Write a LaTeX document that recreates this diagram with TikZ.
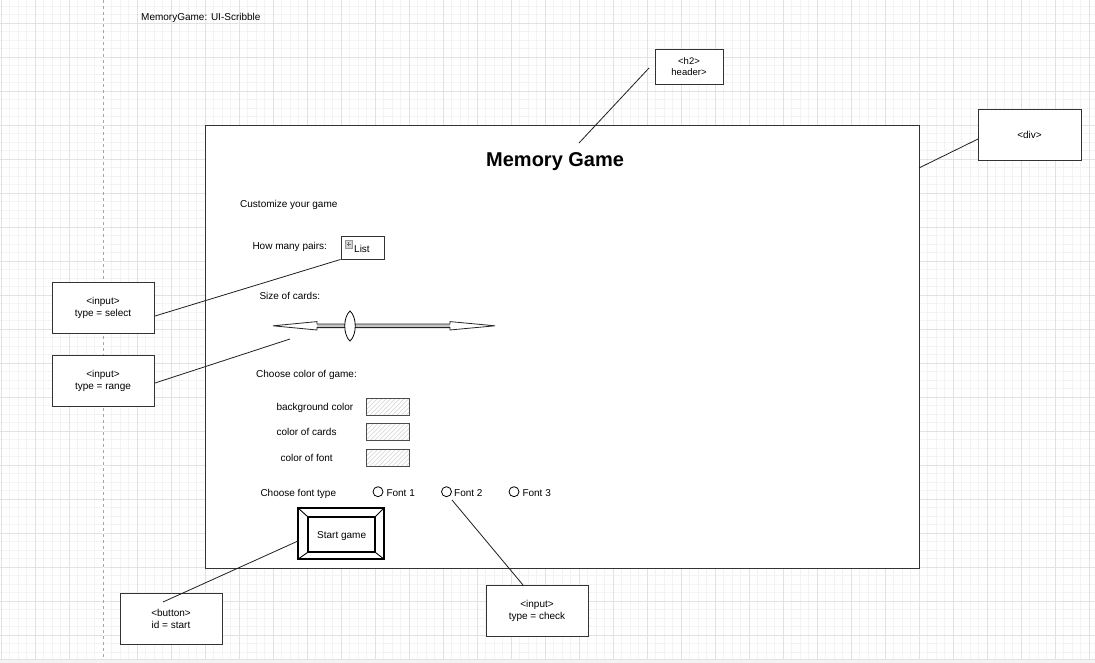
\documentclass[tikz,border=0pt]{standalone}
\usepackage{fontspec}
\setmainfont{Liberation Sans}
\definecolor{gminor}{HTML}{F3F3F3}
\definecolor{gmajor}{HTML}{E2E2E2}
\definecolor{ink}{HTML}{333333}
\begin{document}
\begin{tikzpicture}[x=1pt,y=-1pt,
  txt/.style={font=\fontsize{10}{12}\selectfont, inner sep=0pt, anchor=base west, text=black},
  annot/.style={draw=ink, line width=0.9pt, fill=white, minimum width=102pt, minimum height=51pt, inner sep=0pt, align=center, font=\fontsize{10}{12}\selectfont},
  conn/.style={draw=black!88, line width=0.8pt},
  colbox/.style={draw=black!70, line width=0.8pt},
  radio/.style={draw=black, line width=0.8pt, fill=white, circle, minimum size=10pt, inner sep=0pt},
  ]
\useasboundingbox (0,0) rectangle (1095,663);
\fill[white] (0,0) rectangle (1095,663);
% grid
\foreach \i in {0,...,128} \draw[gminor, line width=0.7pt] ({1+8.5*\i},0) -- ({1+8.5*\i},659);
\foreach \i in {0,...,76} \draw[gminor, line width=0.7pt] (0,{6+8.5*\i}) -- (1095,{6+8.5*\i});
\foreach \i in {0,...,32} \draw[gmajor, line width=0.8pt] ({1+34*\i},0) -- ({1+34*\i},659);
\foreach \i in {0,...,18} \draw[gmajor, line width=0.8pt] (0,{23+34*\i}) -- (1095,{23+34*\i});
\draw[white, line width=1pt] (103,0) -- (103,659);
\draw[gray!70, line width=0.8pt, dash pattern=on 3pt off 3pt] (103,0) -- (103,659);
\fill[gminor] (0,659) rectangle (1095,663);
\draw[gmajor, line width=0.8pt] (0,659) -- (1095,659);

% title
\node[txt] (title) at (141,20.5) {MemoryGame: UI-Scribble};

% main div
\node[draw=ink, line width=1pt, fill=white, minimum width=714pt, minimum height=442pt, inner sep=0pt] (main) at (562,347) {};

\node[inner sep=0pt, anchor=base west, font=\fontsize{20}{24}\selectfont\bfseries] (h2) at (486,167) {Memory Game};

\node[txt] (cust) at (240,207.3) {Customize your game};
\node[txt] (pairs) at (252.3,249) {How many pairs:};

% list box
\node[draw=ink, line width=0.9pt, fill=white, minimum width=43pt, minimum height=23pt, inner sep=0pt] (list) at (362.5,247.5) {};
\fill[gray!35] (345,240.5) rectangle (352.5,248);
\draw[gray!80, line width=0.6pt] (345,240.5) rectangle (352.5,248);
\draw[gray!90!black, line width=0.7pt] (346.8,244.25) -- (350.7,244.25) (348.75,242.3) -- (348.75,246.2);
\node[txt] (listt) at (354,252.5) {List};

\node[txt] (size) at (259.3,299.3) {Size of cards:};

% slider
\fill[white] (273,325.8) -- (317,321.6) -- (317,330) -- cycle;
\fill[white] (495,325.8) -- (450,321.6) -- (450,330) -- cycle;
\fill[gray!45] (317,324) rectangle (450,327.6);
\draw[black!85, line width=0.8pt, line join=miter] (273,325.8) -- (317,321.6) -- (317,324) -- (450,324) -- (450,321.6) -- (495,325.8) -- (450,330) -- (450,327.6) -- (317,327.6) -- (317,330) -- cycle;
\draw[black, line width=0.8pt, fill=white] (350,311) .. controls (357,317) and (357,335) .. (350,341) .. controls (343,335) and (343,317) .. (350,311) -- cycle;
\coordinate (slider) at (290,339);

\node[txt] (choose) at (256,377.5) {Choose color of game:};
\node[txt] (bg) at (276.3,410.7) {background color};
\node[txt] (cc) at (276.3,435.7) {color of cards};
\node[txt] (cf) at (280.3,461.7) {color of font};

% colour boxes
\foreach \ya/\yb in {398/415, 423.5/440.5, 449/466}{
  \begin{scope}
    \clip (366,\ya) rectangle (409,\yb);
    \foreach \k in {0,...,16} \draw[gray!35, line width=0.6pt] ({352+4.5*\k},\yb) -- ++(22,-22);
  \end{scope}
  \draw[colbox] (366,\ya) rectangle (409,\yb);
}

\node[txt] (fonttype) at (260.3,496) {Choose font type};
\node[radio] (r1) at (378,491.7) {};
\node[radio] (r2) at (446.5,491.7) {};
\node[radio] (r3) at (514,491.7) {};
\node[txt] (f1) at (386.3,496) {Font 1};
\node[txt] (f2) at (454,496) {Font 2};
\node[txt] (f3) at (522.3,496) {Font 3};

% start button
\node[draw=black, line width=1.1pt, fill=white, minimum width=86pt, minimum height=51pt, inner sep=0pt] (btn) at (341,533.5) {};
\node[draw=black, line width=1.1pt, minimum width=67pt, minimum height=35pt, inner sep=0pt] (btnin) at (341.5,534.5) {};
\node[txt] (btntxt) at (317,538) {Start game};
\draw[black, line width=0.9pt] (btn.north west) -- (btnin.north west) (btn.north east) -- (btnin.north east) (btn.south west) -- (btnin.south west) (btn.south east) -- (btnin.south east);

% annotation boxes
\node[annot, minimum width=68pt, minimum height=35pt, font=\fontsize{9.5}{11}\selectfont] (ah2) at (689,66.5) {<h2>\\header>};
\node[annot, minimum width=103pt] (adiv) at (1029.5,134.5) {<div>};
\node[annot] (asel) at (103,308) {<input>\\type = select};
\node[annot] (arng) at (103,381) {<input>\\type = range};
\node[annot] (abtn) at (171,618.5) {<button>\\id = start};
\node[annot] (achk) at (537,610.5) {<input>\\type = check};

% connectors
\coordinate (h2a) at (649,68);
\coordinate (h2b) at (579,143);
\draw[conn] (h2a) -- (h2b);
\coordinate (diva) at (978,139);
\coordinate (divb) at (919,168);
\draw[conn] (diva) -- (divb);
\coordinate (sela) at (155,316);
\draw[conn] (sela) -- (list.south west);
\coordinate (rnga) at (155,383);
\draw[conn] (rnga) -- (slider);
\coordinate (btna) at (163,602);
\coordinate (btnb) at (298,541);
\draw[conn] (btna) -- (btnb);
\coordinate (chka) at (523,585);
\coordinate (chkb) at (452,500);
\draw[conn] (chka) -- (chkb);
\end{tikzpicture}
\end{document}
